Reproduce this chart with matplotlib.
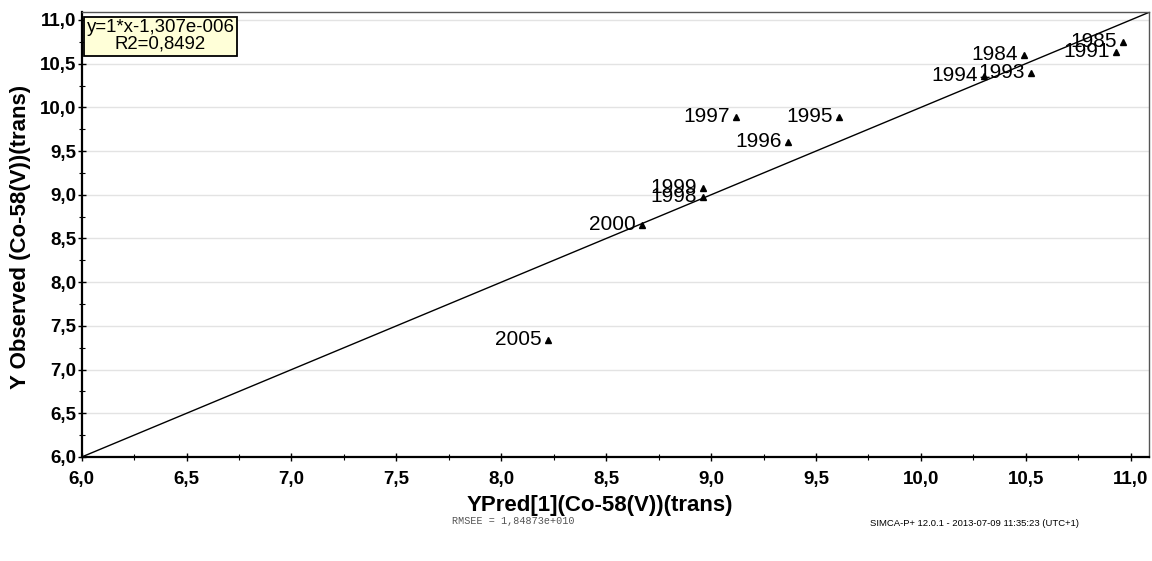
import numpy as np
import matplotlib
matplotlib.use("Agg")
import matplotlib.pyplot as plt
from matplotlib.ticker import MultipleLocator, FuncFormatter

plt.rcParams["font.family"] = ["Liberation Sans", "DejaVu Sans"]

# ------------------------------------------------------------
# Data
# ------------------------------------------------------------
years = ["2005", "2000", "1999", "1998", "1997", "1996", "1995",
         "1994", "1993", "1984", "1991", "1985"]
y_pred = [8.224, 8.669, 8.963, 8.963, 9.117, 9.368, 9.611,
          10.30, 10.523, 10.49, 10.93, 10.962]
y_obs = [7.334, 8.65, 9.08, 8.98, 9.884, 9.609, 9.884,
         10.36, 10.39, 10.60, 10.63, 10.744]

eq_text = "y=1*x-1,307e-006\nR2=0,8492"
rmsee_text = "RMSEE = 1,84873e+010"
footer_text = "SIMCA-P+ 12.0.1 - 2013-07-09 11:35:23 (UTC+1)"
x_label = "YPred[1](Co-58(V))(trans)"
y_label = "Y Observed (Co-58(V))(trans)"

lo, hi = 6.0, 11.087

# ------------------------------------------------------------
# Figure
# ------------------------------------------------------------
fig = plt.figure(figsize=(11.52, 5.61), dpi=100)
ax = fig.add_axes([0.0709, 0.1854, 0.9265, 0.7926])

ax.set_xlim(lo, hi)
ax.set_ylim(lo, hi)

# horizontal grid only
ax.yaxis.set_major_locator(MultipleLocator(0.5))
ax.yaxis.set_minor_locator(MultipleLocator(0.25))
ax.xaxis.set_major_locator(MultipleLocator(0.5))
ax.xaxis.set_minor_locator(MultipleLocator(0.25))
ax.grid(axis="y", which="major", color="#e3e3e3", linewidth=1.0)
ax.set_axisbelow(True)

comma = FuncFormatter(lambda v, p: f"{v:.1f}".replace(".", ","))
ax.xaxis.set_major_formatter(comma)
ax.yaxis.set_major_formatter(comma)

ax.tick_params(which="major", direction="inout", length=6, width=1,
               labelsize=13.5, pad=7)
ax.tick_params(which="minor", direction="inout", length=5, width=0.8)
ax.tick_params(axis="y", which="major", pad=1)
for lab in ax.get_xticklabels() + ax.get_yticklabels():
    lab.set_fontweight("bold")

for s in ["left", "bottom"]:
    ax.spines[s].set_linewidth(1.6)
    ax.spines[s].set_color("black")
for s in ["top", "right"]:
    ax.spines[s].set_linewidth(1.0)
    ax.spines[s].set_color("#555555")

# y = x line
ax.plot([lo, hi], [lo, hi], color="black", linewidth=1.0, zorder=2)

# points
ax.plot(y_pred, y_obs, linestyle="none", marker="^", markersize=4,
        color="black", zorder=3)
for lbl, xv, yv in zip(years, y_pred, y_obs):
    ax.annotate(lbl, (xv, yv), xytext=(-4.5, -3.6), textcoords="offset points",
                ha="right", va="baseline", fontsize=15, color="black",
                zorder=4)

# equation box
ax.text(0.0738, 0.984, eq_text, transform=ax.transAxes, ha="center",
        va="top", fontsize=13.4, linespacing=0.95, multialignment="center",
        bbox=dict(boxstyle="square,pad=0.15", facecolor="#ffffd8",
                  edgecolor="black", linewidth=1.3))

# labels
fig.text(600 / 1152, 1 - 506 / 561, x_label, ha="center", va="center",
         fontsize=16, fontweight="bold")
fig.text(21 / 1152, 1 - 237 / 561, y_label, ha="center", va="center",
         rotation=90, fontsize=16, fontweight="bold")

fig.text(452 / 1152, 1 - 521 / 561, rmsee_text, ha="left", va="center",
         fontsize=7.3, family="Liberation Mono", color="#555555")
fig.text(870 / 1152, 1 - 524 / 561, footer_text, ha="left", va="center",
         fontsize=6.8, color="black")

fig.savefig("out.png", dpi=100)
